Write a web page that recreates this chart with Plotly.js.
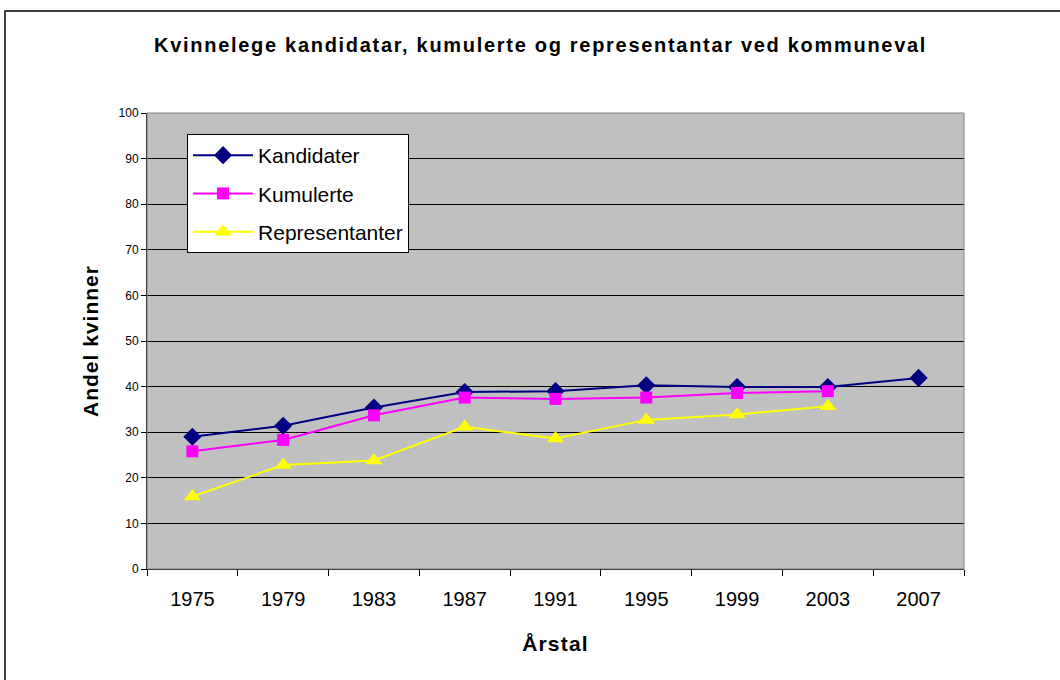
<!DOCTYPE html>
<html>
<head>
<meta charset="utf-8">
<script src="https://cdn.plot.ly/plotly-3.0.1.min.js"></script>
<style>
  body { margin: 0; background: #fff; }
  #chart { width: 1060px; height: 680px; }
</style>
</head>
<body>
<div id="chart"></div>
<script>
// years (categories) and shares of women
var years = ["1975", "1979", "1983", "1987", "1991", "1995", "1999", "2003", "2007"];
var kandidater = [29.0, 31.4, 35.4, 38.8, 39.0, 40.3, 39.9, 39.9, 41.9];
var kumulerte = [25.8, 28.3, 33.7, 37.6, 37.3, 37.6, 38.6, 39.0, null];
var representanter = [15.9, 22.8, 23.8, 31.2, 28.6, 32.7, 33.9, 35.7, null];
var yTicks = [0, 10, 20, 30, 40, 50, 60, 70, 80, 90, 100];

var font = "Liberation Sans, Arial, sans-serif";

// bold text with a bit of extra letter spacing, like the original
function spaced(txt, px) {
  return '<span style="letter-spacing:' + px + 'px"><b>' + txt + '</b></span>';
}

var trace1 = {
  x: years, y: kandidater, name: "Kandidater", legendgroup: "a",
  type: "scatter", mode: "lines+markers",
  line: {color: "#000080", width: 2},
  marker: {symbol: "diamond", size: 14, color: "#000080"}
};
var trace2 = {
  x: years, y: kumulerte, name: "Kumulerte", legendgroup: "b",
  type: "scatter", mode: "lines+markers",
  line: {color: "#FF00FF", width: 2},
  marker: {symbol: "square", size: 12, color: "#FF00FF"}
};
var trace3 = {
  x: years, y: representanter, name: "Representanter", legendgroup: "c",
  type: "scatter", mode: "lines+markers",
  line: {color: "#FFFF00", width: 2},
  marker: {symbol: "triangle-up", size: 15, color: "#FFFF00"}
};
var data = [trace1, trace2, trace3];

var layout = {
  width: 1060, height: 680,
  margin: {l: 147, r: 96, t: 113, b: 111},
  paper_bgcolor: "#ffffff",
  plot_bgcolor: "#C0C0C0",
  font: {family: font, color: "#000"},
  showlegend: true,
  title: {
    text: spaced("Kvinnelege kandidatar, kumulerte og representantar ved kommuneval", 1.7),
    font: {size: 20, family: font},
    x: 0.51, xanchor: "center", y: 0.934, yanchor: "middle"
  },
  xaxis: {
    type: "category",
    range: [-0.5, 8.5],
    tickson: "boundaries",
    ticks: "outside", ticklen: 6, tickcolor: "#000",
    tickfont: {size: 20, family: font},
    ticklabelstandoff: 12,
    showline: true, linecolor: "#000", linewidth: 1, mirror: false,
    showgrid: false,
    title: {text: spaced("Årstal", 1.2), font: {size: 21, family: font}, standoff: 27}
  },
  yaxis: {
    range: [0, 100],
    tickvals: yTicks,
    ticks: "outside", ticklen: 5, tickcolor: "#000",
    tickfont: {size: 12, family: font},
    showline: true, linecolor: "#000", linewidth: 1,
    showgrid: true, gridcolor: "#000", gridwidth: 1,
    zeroline: false,
    title: {text: spaced("Andel kvinner", 1), font: {size: 21, family: font}, standoff: 14}
  },
  legend: {
    x: 0.049, y: 0.954, xanchor: "left", yanchor: "top",
    bgcolor: "#ffffff", bordercolor: "#000", borderwidth: 1,
    font: {size: 21, family: font},
    traceorder: "grouped", tracegroupgap: 8, itemwidth: 60
  },
  shapes: [
    {type: "rect", xref: "paper", yref: "paper",
     x0: 0, x1: 1, y0: 0, y1: 1,
     line: {color: "#808080", width: 1}},
    {type: "rect", xref: "paper", yref: "paper",
     x0: -0.1738, x1: 1.12, y0: -0.3, y1: 1.2237,
     line: {color: "#000", width: 1.5}}
  ]
};

Plotly.newPlot("chart", data, layout, {displayModeBar: false, staticPlot: true});
</script>
</body>
</html>
